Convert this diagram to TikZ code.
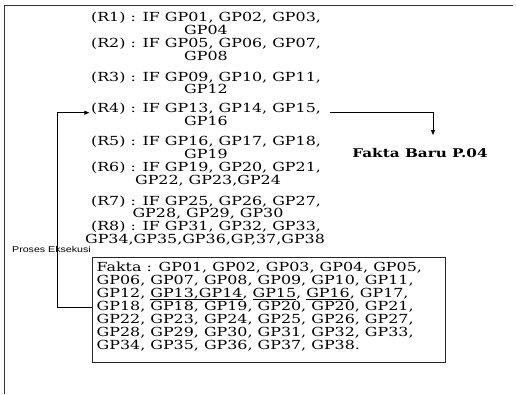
\documentclass[tikz,border=0pt]{standalone}
\usepackage{fontspec}
\usetikzlibrary{arrows.meta}
\newfontfamily\rulefont[FakeStretch=1.27]{DejaVu Serif}
\newfontfamily\labfont[FakeStretch=1.25]{Liberation Sans}
\newcommand\myul[1]{\setbox0\hbox{#1}\rlap{\rule[-1.6pt]{\wd0}{0.5pt}}\box0}
\begin{document}
\begin{tikzpicture}[x=1pt,y=-1pt,
  rl/.style={font=\rulefont\fontsize{12.5}{13}\selectfont, inner sep=0pt, anchor=base},
  frame/.style={draw=black!80, line width=0.9pt},
  conn/.style={draw=black, line width=0.8pt},
  tip/.style={-{Triangle[length=5pt,width=4pt]}},
  factbox/.style={draw=black!85, line width=0.8pt, minimum width=353pt, minimum height=105pt, inner sep=0pt, anchor=north west},
  facttext/.style={font=\rulefont\fontsize{12.5}{13}\selectfont, inner sep=0pt, align=left, anchor=north west},
  newfact/.style={font=\rulefont\bfseries\fontsize{12}{13}\selectfont, inner sep=0pt},
  proses/.style={font=\labfont\fontsize{8.5}{9}\selectfont, inner sep=0pt, anchor=west}
]
\useasboundingbox (0,0) rectangle (516,394);
% outer frame (top and left)
\coordinate (ftl) at (4,5);
\coordinate (ftr) at (513,5);
\coordinate (fbl) at (4,394);
\draw[frame] (ftr) -- (ftl) -- (fbl);

% rules
\node[rl] (r1a) at (206,21.5) {(R1) : IF GP01, GP02, GP03,};
\node[rl] (r1b) at (206,34.5) {GP04};
\node[rl] (r2a) at (206,47.5) {(R2) : IF GP05, GP06, GP07,};
\node[rl] (r2b) at (206,60.5) {GP08};
\node[rl] (r3a) at (206,81.5) {(R3) : IF GP09, GP10, GP11,};
\node[rl] (r3b) at (206,93.5) {GP12};
\node[rl] (r4a) at (206,112.5) {(R4) : IF GP13, GP14, GP15,};
\node[rl] (r4b) at (206,125.5) {GP16};
\node[rl] (r5a) at (206,145.5) {(R5) : IF GP16, GP17, GP18,};
\node[rl] (r5b) at (206,158.5) {GP19};
\node[rl] (r6a) at (206,171.5) {(R6) : IF GP19, GP20, GP21,};
\node[rl] (r6b) at (208,184.5) {GP22, GP23,GP24};
\node[rl] (r7a) at (206,205.5) {(R7) : IF GP25, GP26, GP27,};
\node[rl] (r7b) at (208,217.5) {GP28, GP29, GP30};
\node[rl] (r8a) at (206,230.5) {(R8) : IF GP31, GP32, GP33,};
\node[rl] (r8b) at (205,243.5) {GP34,GP35,GP36,GP,37,GP38};

% new fact
\node[newfact] (fb) at (420,153) {Fakta Baru P.04};
\coordinate (fbin) at (433,135);

% label
\node[proses] (pe) at (12,249) {Proses Eksekusi};

% fact box
\node[factbox] (box) at (92,257) {};
\node[facttext] (ftext) at (96.5,262) {Fakta : GP01, GP02, GP03, GP04, GP05,\\
GP06, GP07, GP08, GP09, GP10, GP11,\\
GP12, \myul{GP13,GP14}, \myul{GP15}, \myul{GP16}, GP17,\\
GP18, GP18, GP19, GP20, GP20, GP21,\\
GP22, GP23, GP24, GP25, GP26, GP27,\\
GP28, GP29, GP30, GP31, GP32, GP33,\\
GP34, GP35, GP36, GP37, GP38.};

% connectors
\coordinate (loop) at (57,307);
\draw[conn,tip] (box.west |- loop) -- (loop) |- ([xshift=-1.5pt,yshift=-4pt]r4a.west);
\draw[conn,tip] ([xshift=9pt,yshift=-3.5pt]r4a.east) -| (fbin);
\end{tikzpicture}
\end{document}
